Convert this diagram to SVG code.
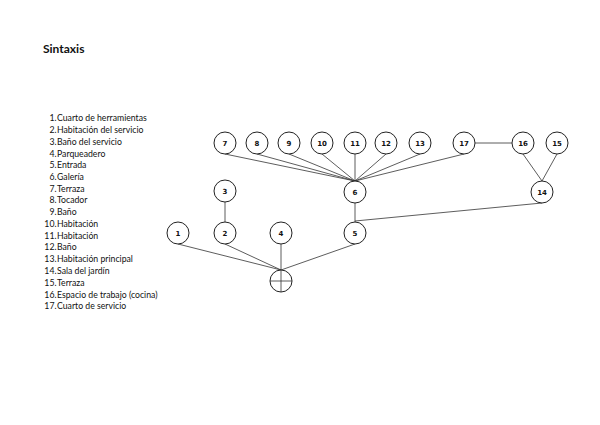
<svg xmlns="http://www.w3.org/2000/svg" width="600" height="425" viewBox="0 0 600 425">
<style>
.t{font-family:Lato,"DejaVu Sans",sans-serif;font-size:8.7px;fill:#111}
.n{font-family:"DejaVu Sans",sans-serif;font-size:7px;font-weight:bold;fill:#111;text-anchor:middle}
.c{fill:#fff;stroke:#222;stroke-width:1}
.l{stroke:#333;stroke-width:0.8;fill:none}
</style>
<rect width="600" height="425" fill="#fff"/>
<text x="43" y="53" style="font-family:Lato,'DejaVu Sans',sans-serif;font-size:12px;font-weight:bold;fill:#111">Sintaxis</text>
<g id="legend" class="t">
<text x="56.5" y="121" text-anchor="end">1.</text><text x="57" y="121">Cuarto de herramientas</text>
<text x="56.5" y="133" text-anchor="end">2.</text><text x="57" y="133">Habitación del servicio</text>
<text x="56.5" y="145" text-anchor="end">3.</text><text x="57" y="145">Baño del servicio</text>
<text x="56.5" y="157" text-anchor="end">4.</text><text x="57" y="157">Parqueadero</text>
<text x="56.5" y="168" text-anchor="end">5.</text><text x="57" y="168">Entrada</text>
<text x="56.5" y="180" text-anchor="end">6.</text><text x="57" y="180">Galería</text>
<text x="56.5" y="192" text-anchor="end">7.</text><text x="57" y="192">Terraza</text>
<text x="56.5" y="203" text-anchor="end">8.</text><text x="57" y="203">Tocador</text>
<text x="56.5" y="215" text-anchor="end">9.</text><text x="57" y="215">Baño</text>
<text x="56.5" y="227" text-anchor="end">10.</text><text x="57" y="227">Habitación</text>
<text x="56.5" y="239" text-anchor="end">11.</text><text x="57" y="239">Habitación</text>
<text x="56.5" y="250" text-anchor="end">12.</text><text x="57" y="250">Baño</text>
<text x="56.5" y="262" text-anchor="end">13.</text><text x="57" y="262">Habitación principal</text>
<text x="56.5" y="274" text-anchor="end">14.</text><text x="57" y="274">Sala del jardín</text>
<text x="56.5" y="286" text-anchor="end">15.</text><text x="57" y="286">Terraza</text>
<text x="56.5" y="298" text-anchor="end">16.</text><text x="57" y="298">Espacio de trabajo (cocina)</text>
<text x="56.5" y="309" text-anchor="end">17.</text><text x="57" y="309">Cuarto de servicio</text>
</g>
<g id="connectors" class="l">
<line x1="225" y1="154" x2="355" y2="181"/>
<line x1="257" y1="154" x2="355" y2="181"/>
<line x1="289" y1="154" x2="355" y2="181"/>
<line x1="322" y1="154" x2="355" y2="181"/>
<line x1="355" y1="154" x2="355" y2="181"/>
<line x1="386" y1="154" x2="355" y2="181"/>
<line x1="420" y1="154" x2="355" y2="181"/>
<line x1="464" y1="154" x2="355" y2="181"/>
<line x1="475" y1="143" x2="512" y2="143"/>
<line x1="523" y1="154" x2="542" y2="181"/>
<line x1="557" y1="154" x2="542" y2="181"/>
<line x1="542" y1="203" x2="355" y2="221"/>
<line x1="355" y1="203" x2="355" y2="222"/>
<line x1="225" y1="202" x2="225" y2="222"/>
<line x1="178" y1="244" x2="281" y2="270"/>
<line x1="225" y1="244" x2="281" y2="270"/>
<line x1="281" y1="244" x2="281" y2="270"/>
<line x1="355" y1="244" x2="281" y2="270"/>
</g>
<g id="n7"><circle class="c" cx="225" cy="143" r="11"/><text class="n" x="225" y="145.5">7</text></g>
<g id="n8"><circle class="c" cx="257" cy="143" r="11"/><text class="n" x="257" y="145.5">8</text></g>
<g id="n9"><circle class="c" cx="289" cy="143" r="11"/><text class="n" x="289" y="145.5">9</text></g>
<g id="n10"><circle class="c" cx="322" cy="143" r="11"/><text class="n" x="322" y="145.5">10</text></g>
<g id="n11"><circle class="c" cx="355" cy="143" r="11"/><text class="n" x="355" y="145.5">11</text></g>
<g id="n12"><circle class="c" cx="386" cy="143" r="11"/><text class="n" x="386" y="145.5">12</text></g>
<g id="n13"><circle class="c" cx="420" cy="143" r="11"/><text class="n" x="420" y="145.5">13</text></g>
<g id="n17"><circle class="c" cx="464" cy="143" r="11"/><text class="n" x="464" y="145.5">17</text></g>
<g id="n16"><circle class="c" cx="523" cy="143" r="11"/><text class="n" x="523" y="145.5">16</text></g>
<g id="n15"><circle class="c" cx="557" cy="143" r="11"/><text class="n" x="557" y="145.5">15</text></g>
<g id="n3"><circle class="c" cx="225" cy="191" r="11"/><text class="n" x="225" y="193.5">3</text></g>
<g id="n6"><circle class="c" cx="355" cy="192" r="11"/><text class="n" x="355" y="194.5">6</text></g>
<g id="n14"><circle class="c" cx="542" cy="192" r="11"/><text class="n" x="542" y="194.5">14</text></g>
<g id="n1"><circle class="c" cx="178" cy="233" r="11"/><text class="n" x="178" y="235.5">1</text></g>
<g id="n2"><circle class="c" cx="225" cy="233" r="11"/><text class="n" x="225" y="235.5">2</text></g>
<g id="n4"><circle class="c" cx="281" cy="233" r="11"/><text class="n" x="281" y="235.5">4</text></g>
<g id="n5"><circle class="c" cx="355" cy="233" r="11"/><text class="n" x="355" y="235.5">5</text></g>
<g id="entry"><circle class="c" cx="281" cy="281" r="11"/><line class="l" x1="270" y1="281" x2="292" y2="281"/><line class="l" x1="281" y1="270" x2="281" y2="292"/></g>
</svg>
